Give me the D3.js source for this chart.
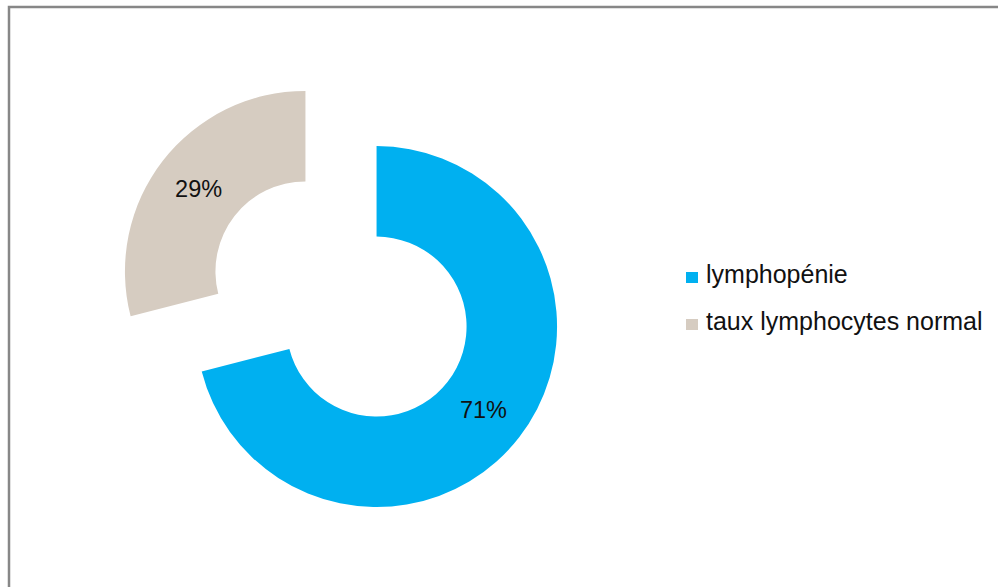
<!DOCTYPE html>
<html>
<head>
<meta charset="utf-8">
<script src="https://cdn.jsdelivr.net/npm/d3@7"></script>
<style>
  html, body { margin: 0; padding: 0; background: #fff; }
  svg { display: block; }
</style>
</head>
<body>
<svg id="chart" width="998" height="587"></svg>
<script>
// Répartition des taux de lymphocytes
const categories = ["lymphopénie", "taux lymphocytes normal"];
const values = [71, 29];
const colors = ["#00b0f0", "#d6ccc1"];

const svg = d3.select("#chart");
const width = 998, height = 587;

// chart frame
svg.append("rect")
  .attr("x", 9).attr("y", 7)
  .attr("width", 1200).attr("height", 800)
  .attr("fill", "#fff")
  .attr("stroke", "#878787")
  .attr("stroke-width", 2.5);

const cx = 341, cy = 299;
const outerR = 180.5, innerR = 90, explode = 45;

const data = categories.map((c, i) => ({ name: c, value: values[i], color: colors[i] }));
const pie = d3.pie().sort(null).value(d => d.value);
const arc = d3.arc().innerRadius(innerR).outerRadius(outerR);
const total = d3.sum(values);

const g = svg.append("g").attr("transform", `translate(${cx},${cy})`);

const slices = g.selectAll("g.slice")
  .data(pie(data))
  .join("g")
  .attr("class", "slice")
  .attr("transform", d => {
    const mid = (d.startAngle + d.endAngle) / 2;
    return `translate(${explode * Math.sin(mid)},${-explode * Math.cos(mid)})`;
  });

slices.append("path")
  .attr("d", arc)
  .attr("fill", d => d.data.color);

slices.append("text")
  .attr("transform", d => `translate(${arc.centroid(d)})`)
  .attr("text-anchor", "middle")
  .attr("dy", "0.35em")
  .attr("font-family", "'Liberation Sans', Arial, sans-serif")
  .attr("font-size", 23.5)
  .attr("fill", "#111")
  .text(d => Math.round(d.data.value / total * 100) + "%");

// legend
const legend = svg.append("g").attr("transform", "translate(686,0)");
const legendY = [277.5, 324.5];
const items = legend.selectAll("g.item")
  .data(data)
  .join("g")
  .attr("class", "item")
  .attr("transform", (d, i) => `translate(0,${legendY[i]})`);

items.append("rect")
  .attr("x", 0).attr("y", -5.5)
  .attr("width", 12).attr("height", 11)
  .attr("fill", d => d.color);

items.append("text")
  .attr("x", 20)
  .attr("y", 5.5)
  .attr("font-family", "'Liberation Sans', Arial, sans-serif")
  .attr("font-size", 25)
  .attr("fill", "#111")
  .text(d => d.name);
</script>
</body>
</html>
